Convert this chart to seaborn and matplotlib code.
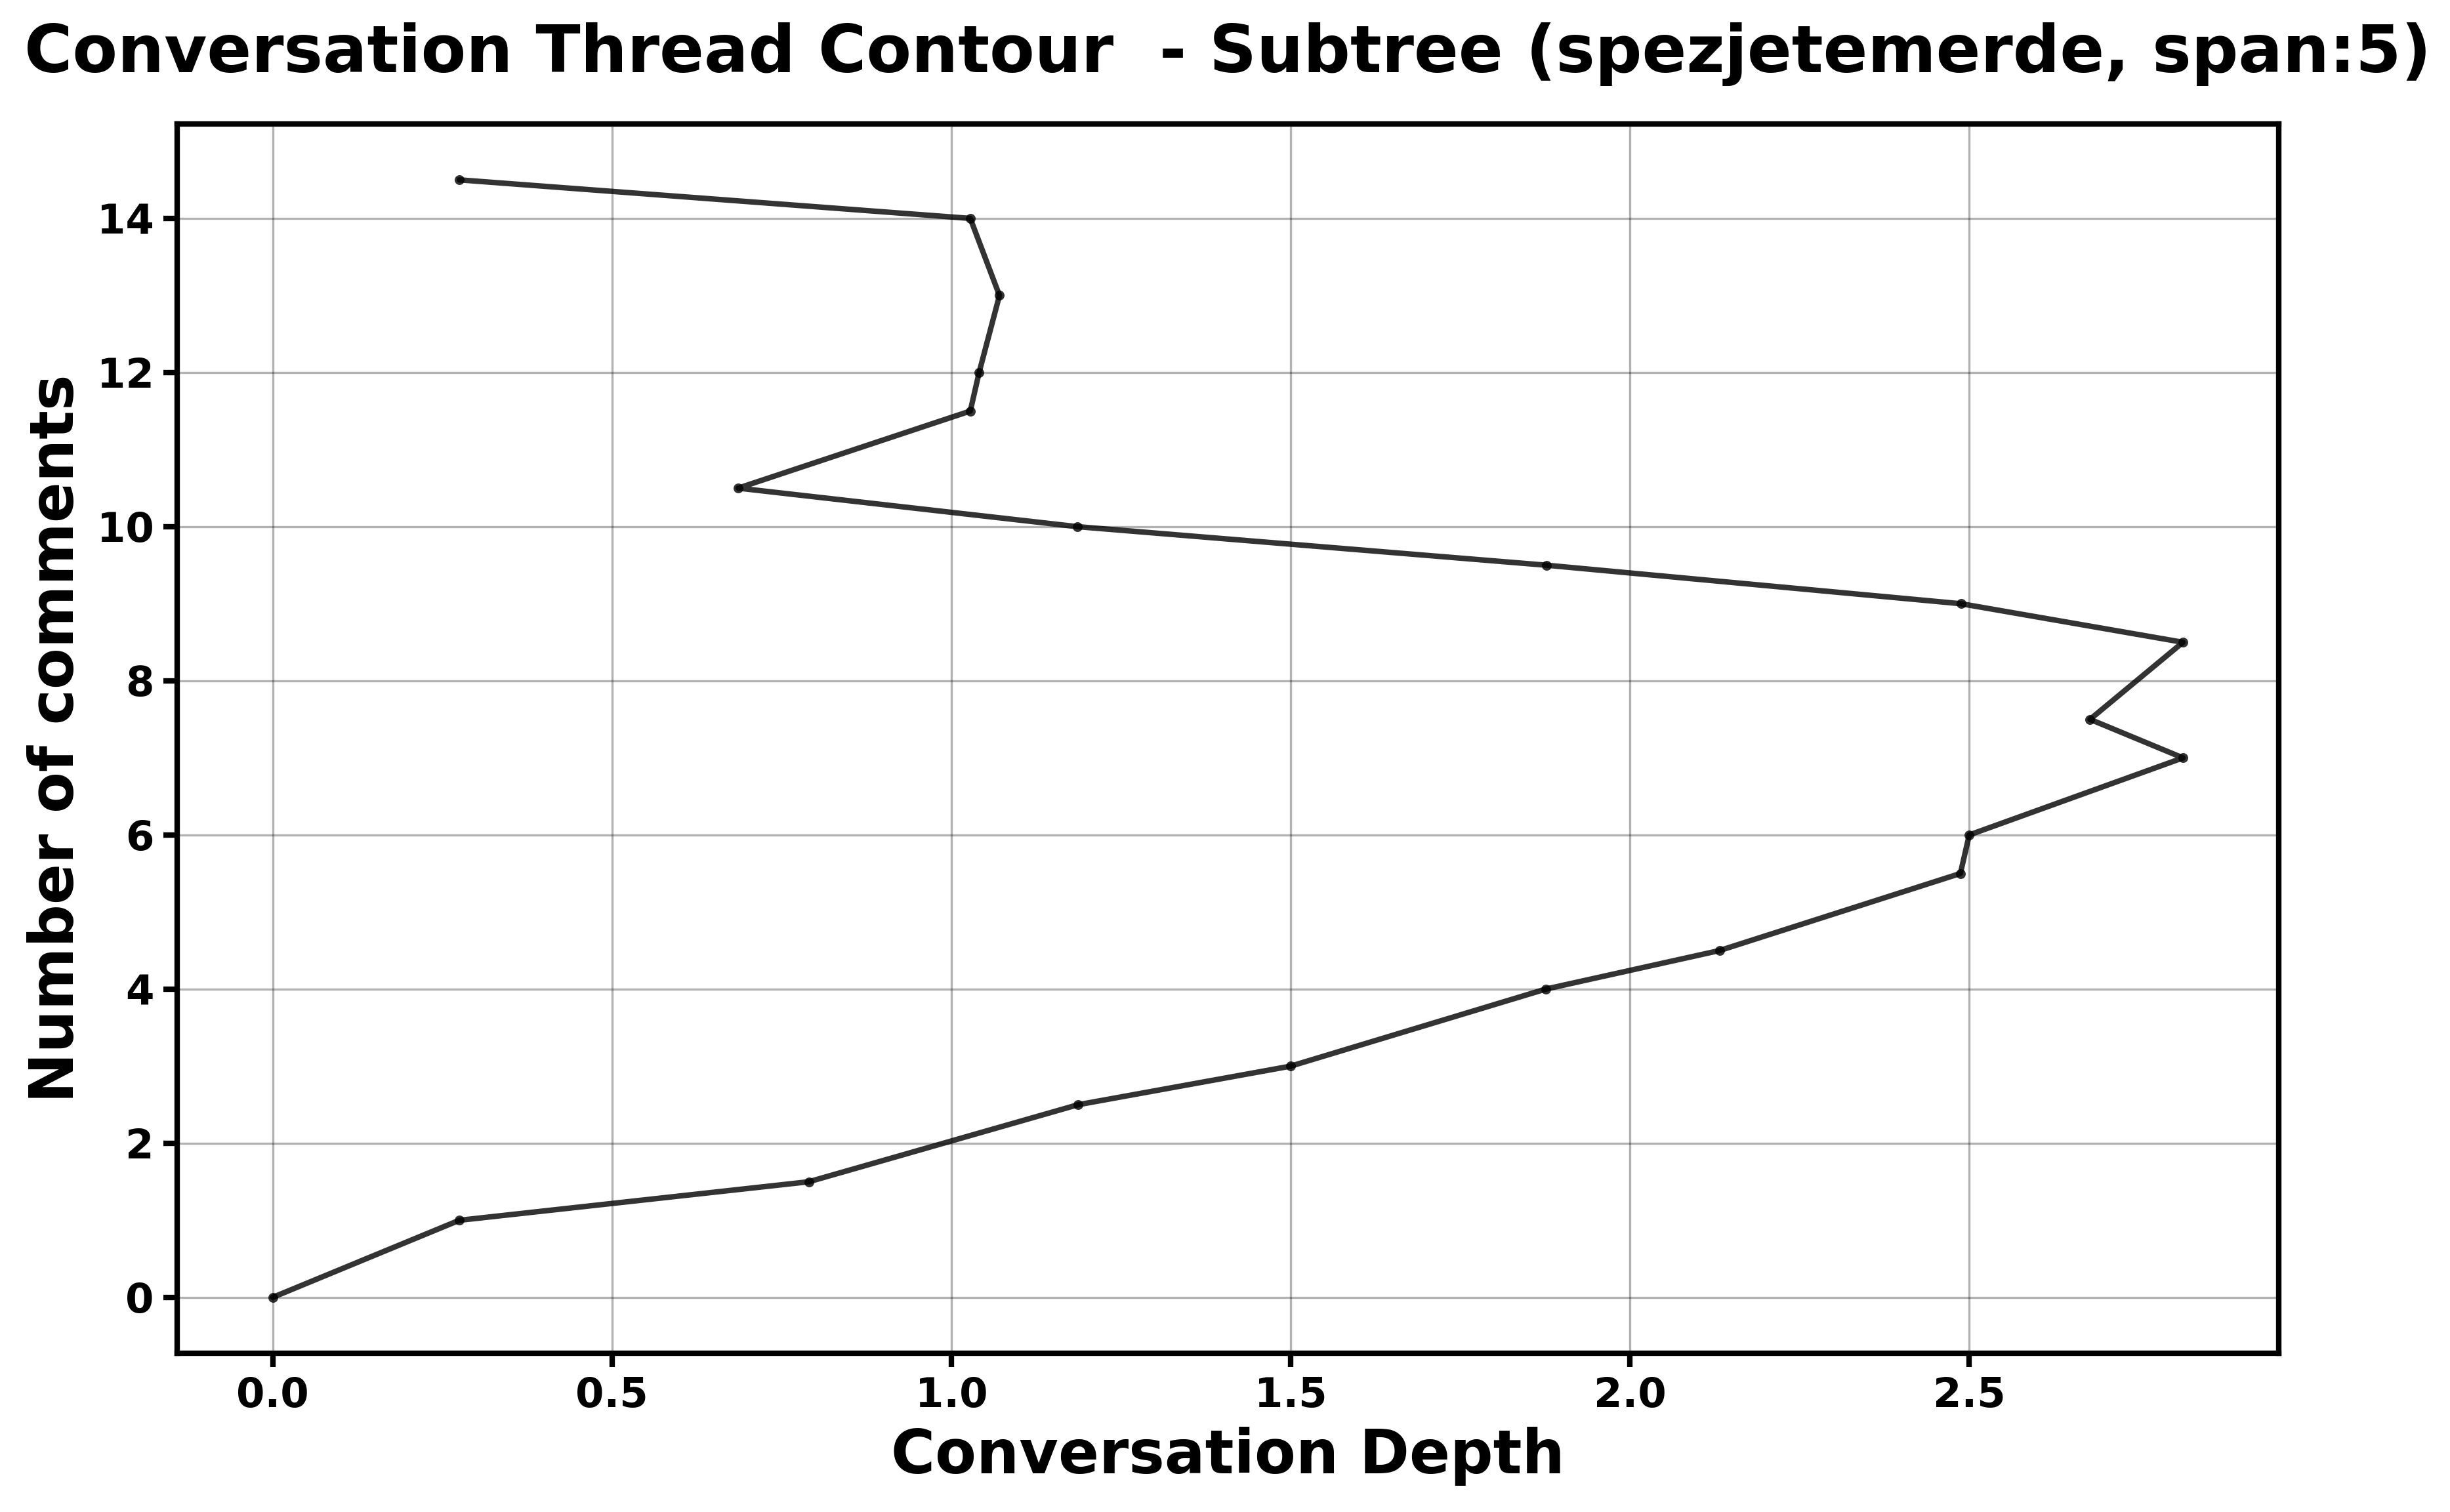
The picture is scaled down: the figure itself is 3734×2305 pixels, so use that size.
"""Conversation thread contour plot for a subtree."""

import matplotlib

matplotlib.use("Agg")
import matplotlib.pyplot as plt
import pandas as pd
import seaborn as sns

# points, in thread order
depth = [0.0, 0.275, 0.79, 1.187, 1.50, 1.876, 2.132, 2.487, 2.50, 2.815,
         2.678, 2.815, 2.488, 1.877, 1.186, 0.686, 1.028, 1.041, 1.071,
         1.028, 0.275]
n_comments = [0, 1, 1.5, 2.5, 3, 4, 4.5, 5.5, 6, 7, 7.5, 8.5, 9, 9.5, 10,
              10.5, 11.5, 12, 13, 14, 14.5]

title = "Conversation Thread Contour  - Subtree (spezjetemerde, span:5)"

sns.set_style("white")
plt.rcParams["font.family"] = ["DejaVu Sans"]
plt.rcParams["font.weight"] = "bold"
plt.rcParams["text.color"] = "black"
plt.rcParams["axes.labelcolor"] = "black"
plt.rcParams["xtick.color"] = "black"
plt.rcParams["ytick.color"] = "black"

df = pd.DataFrame({"depth": depth, "comments": n_comments})

fig = plt.figure(figsize=(3734 / 300, 2305 / 300), dpi=300)
ax = fig.add_axes([0.0723, 0.105, 0.8577, 0.813])

sns.lineplot(
    data=df,
    x="depth",
    y="comments",
    sort=False,
    estimator=None,
    color="black",
    alpha=0.8,
    linewidth=2,
    marker="o",
    markersize=3.6,
    markeredgewidth=0,
    ax=ax,
)

ax.grid(True, color="black", alpha=0.3, linewidth=0.8)
for spine in ax.spines.values():
    spine.set_visible(True)
    spine.set_color("black")
    spine.set_linewidth(2)

ax.tick_params(axis="both", which="major", labelsize=15, length=5, width=2,
               colors="black", left=True, bottom=True)
for lbl in ax.get_xticklabels() + ax.get_yticklabels():
    lbl.set_fontweight("bold")

ax.set_xlabel("Conversation Depth", fontsize=22, fontweight="bold")
ax.set_ylabel("Number of comments", fontsize=22, fontweight="bold")
ax.set_title(title, fontsize=24, fontweight="bold", pad=19)

fig.savefig("out.png", dpi=300)
plt.close(fig)
